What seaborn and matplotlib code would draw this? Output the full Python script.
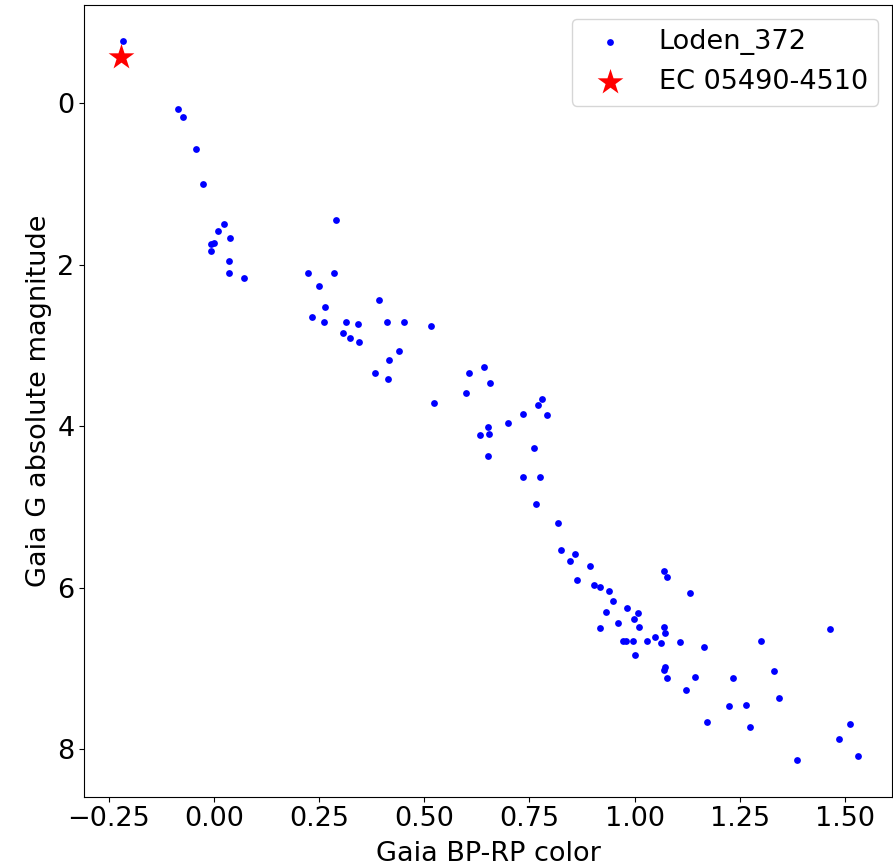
import matplotlib
matplotlib.use("Agg")
import matplotlib.pyplot as plt
import seaborn as sns
import pandas as pd

# cluster members
bp_rp = [-0.217, -0.086, -0.074, -0.043, -0.025, 0.023, 0.010, 0.038, 0.001, -0.006,
         -0.006, 0.035, 0.035, 0.072, 0.290, 0.224, 0.286, 0.249, 0.392, 0.265,
         0.234, 0.261, 0.314, 0.343, 0.411, 0.452, 0.517, 0.308, 0.324, 0.346,
         0.439, 0.417, 0.383, 0.414, 0.523, 0.607, 0.641, 0.657, 0.600, 0.780,
         0.771, 0.792, 0.734, 0.700, 0.651, 0.632, 0.654, 0.761, 0.651, 0.734,
         0.775, 0.765, 0.818, 0.825, 0.859, 0.846, 0.893, 1.070, 1.077, 0.862,
         0.904, 0.918, 0.940, 1.132, 0.948, 0.983, 1.009, 0.933, 0.999, 0.961,
         1.011, 0.918, 1.070, 1.073, 1.465, 0.972, 0.980, 0.996, 1.029, 1.048,
         1.064, 1.108, 1.166, 1.300, 1.002, 1.073, 1.069, 1.076, 1.144, 1.234,
         1.331, 1.122, 1.343, 1.225, 1.266, 1.173, 1.275, 1.512, 1.486, 1.530,
         1.386]
abs_g = [-0.776, 0.067, 0.166, 0.570, 0.996, 1.496, 1.578, 1.673, 1.723, 1.740,
         1.822, 1.950, 2.095, 2.161, 1.446, 2.095, 2.095, 2.260, 2.434, 2.520,
         2.648, 2.714, 2.714, 2.735, 2.714, 2.714, 2.763, 2.842, 2.908, 2.958,
         3.069, 3.185, 3.346, 3.412, 3.717, 3.346, 3.264, 3.462, 3.590, 3.668,
         3.735, 3.862, 3.846, 3.962, 4.011, 4.106, 4.090, 4.270, 4.367, 4.627,
         4.627, 4.965, 5.197, 5.535, 5.585, 5.668, 5.734, 5.792, 5.866, 5.907,
         5.973, 5.990, 6.040, 6.072, 6.167, 6.250, 6.316, 6.300, 6.394, 6.444,
         6.486, 6.498, 6.486, 6.560, 6.510, 6.660, 6.660, 6.659, 6.659, 6.610,
         6.692, 6.672, 6.737, 6.659, 6.836, 6.981, 7.026, 7.125, 7.109, 7.125,
         7.030, 7.274, 7.370, 7.465, 7.452, 7.663, 7.729, 7.695, 7.873, 8.088,
         8.134]

target_bp_rp = [-0.221]
target_g = [-0.577]

cluster = pd.DataFrame({"bp_rp": bp_rp, "G": abs_g})
target = pd.DataFrame({"bp_rp": target_bp_rp, "G": target_g})

plt.rcParams["font.size"] = 19.5

fig = plt.figure(figsize=(8.93, 8.68), dpi=100)
ax = fig.add_axes([0.0944, 0.0822, 0.9045, 0.912])

sns.scatterplot(data=cluster, x="bp_rp", y="G", color="blue", s=24,
                linewidth=0, label="Loden_372", ax=ax)
sns.scatterplot(data=target, x="bp_rp", y="G", color="red", marker="*",
                s=380, linewidth=0, label="EC 05490-4510", ax=ax)

ax.set_xlim(-0.308, 1.612)
ax.set_ylim(8.59, -1.22)
ax.set_xlabel("Gaia BP-RP color", labelpad=6)
ax.set_ylabel("Gaia G absolute magnitude")
ax.legend(loc="upper right")

fig.savefig("out.png", dpi=100)
